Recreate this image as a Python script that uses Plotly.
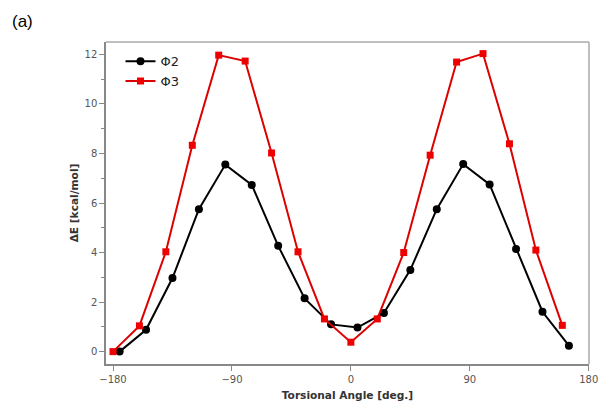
import plotly.graph_objects as go

# Φ2 (black circles)
phi2_x = [-175, -155, -135, -115, -95, -75, -55, -35, -15, 5, 25, 45, 65, 85, 105, 125, 145, 165]
phi2_y = [0.0, 0.88, 2.97, 5.75, 7.55, 6.73, 4.27, 2.15, 1.1, 0.97, 1.56, 3.3, 5.75, 7.57, 6.75, 4.14, 1.61, 0.24]

# Φ3 (red squares)
phi3_x = [-180, -160, -140, -120, -100, -80, -60, -40, -20, 0, 20, 40, 60, 80, 100, 120, 140, 160]
phi3_y = [0.0, 1.04, 4.03, 8.33, 11.97, 11.73, 8.02, 4.03, 1.32, 0.38, 1.32, 4.0, 7.93, 11.69, 12.03, 8.39, 4.1, 1.06]

x_ticks = [-180, -90, 0, 90, 180]
y_ticks = [0, 2, 4, 6, 8, 10, 12]

fig = go.Figure()
fig.add_trace(go.Scatter(x=phi2_x, y=phi2_y, mode="lines+markers", name="Φ2",
                         line=dict(color="black", width=2),
                         marker=dict(symbol="circle", size=8, color="black")))
fig.add_trace(go.Scatter(x=phi3_x, y=phi3_y, mode="lines+markers", name="Φ3",
                         line=dict(color="#dd0000", width=2),
                         marker=dict(symbol="square", size=7, color="#ee0000")))

axis_font = dict(family="DejaVu Sans", size=10, color="#555555")
title_font = dict(family="DejaVu Sans", size=10.6, color="#333333")
fig.update_layout(
    width=600, height=403,
    margin=dict(l=106, r=11, t=42, b=39),
    plot_bgcolor="white", paper_bgcolor="white",
    showlegend=True,
    legend=dict(x=0.03, y=0.987, xanchor="left", yanchor="top",
                font=dict(family="DejaVu Sans", size=13, color="#222222"),
                bgcolor="rgba(0,0,0,0)", tracegroupgap=0, itemwidth=30),
    xaxis=dict(range=[-185.3, 180.2], tickvals=x_ticks, ticktext=[str(v).replace("-", "\u2212") for v in x_ticks],
               automargin=False, ticklabeloverflow="allow",
               showgrid=False, zeroline=False, showline=True, linecolor="#888888", linewidth=1.5,
               ticks="outside", ticklen=5, tickcolor="#888888", tickfont=axis_font,
               title=dict(text="<b>Torsional Angle [deg.]</b>", font=title_font, standoff=8)),
    yaxis=dict(range=[-0.5, 12.5], tickvals=y_ticks, automargin=False,
               showgrid=False, zeroline=False, showline=True, linecolor="#888888", linewidth=1.5,
               ticks="outside", ticklen=5, tickcolor="#888888", tickfont=axis_font,
               minor=dict(tickvals=[1, 3, 5, 7, 9, 11], ticks="outside", ticklen=3, tickcolor="#888888"),
               title=dict(text="<b>ΔE [kcal/mol]</b>", font=title_font, standoff=4)),
    shapes=[
        dict(type="line", xref="paper", yref="paper", x0=0, x1=1, y0=1, y1=1, line=dict(color="#aaaaaa", width=1.5)),
        dict(type="line", xref="paper", yref="paper", x0=1, x1=1, y0=0, y1=1, line=dict(color="#aaaaaa", width=1.5)),
    ],
    annotations=[dict(text="(a)", xref="paper", yref="paper", x=-0.198, y=1.064, xanchor="left", yanchor="middle",
                      showarrow=False, font=dict(family="Liberation Sans", size=17, color="black"))],
)

fig.write_html("out.html", config={"displayModeBar": False},
               post_script="document.body.style.margin='0';document.body.style.overflow='hidden';")
